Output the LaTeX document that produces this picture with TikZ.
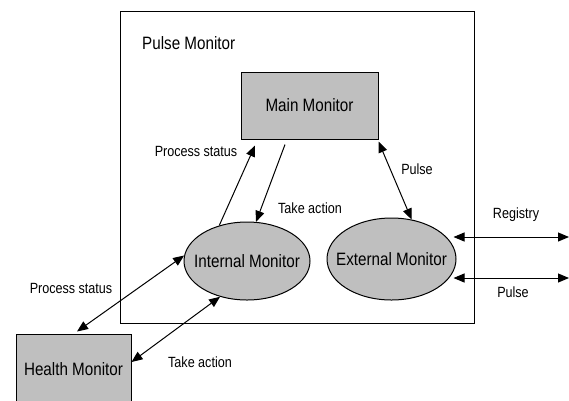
\documentclass[tikz,border=0pt]{standalone}
\usepackage{fontspec}
\setmainfont{Liberation Sans}[FakeStretch=0.85]
\usepackage{tikz}
\usetikzlibrary{arrows.meta,shapes}
\newcommand{\tiplen}{11pt}
\newcommand{\tipwid}{9pt}
\newcommand{\lw}{1pt}

\begin{document}
\begin{tikzpicture}[x=1pt,y=-1pt]
    %\draw[help lines] (0,0) grid (569,400);
    \tikzset{
        box/.style = {draw, line width=\lw, fill=gray!50, inner sep=0pt},
        oval/.style = {ellipse, draw, line width=\lw, fill=gray!50, inner sep=0pt},
        big/.style = {font=\fontsize{17.9}{20}\selectfont, inner sep=0pt},
        lbl/.style = {font=\fontsize{14.8}{16}\selectfont, inner sep=0pt},
        arr/.style = {line width=\lw, -{Triangle[length=\tiplen,width=\tipwid]}},
        darr/.style = {line width=\lw, {Triangle[length=\tiplen,width=\tipwid]}-{Triangle[length=\tiplen,width=\tipwid]}}
    }
    \useasboundingbox (0,0) rectangle (569,400);
    % outer box
    \node[draw, line width=\lw, minimum width=354pt, minimum height=312pt, inner sep=0pt] (pm) at (297,167) {};
    \node[big, anchor=west] (pmtxt) at (142,43) {Pulse Monitor};
    % monitors
    \node[box, minimum width=137pt, minimum height=67pt] (mm) at (309.5,105.5) {};
    \node[big] (mmtxt) at (mm) {Main Monitor};
    \node[oval, minimum width=126pt, minimum height=78pt] (im) at (247,261) {};
    \node[big] (imtxt) at (im) {Internal Monitor};
    \node[oval, minimum width=129pt, minimum height=82pt] (em) at (391.5,259) {};
    \node[big] (emtxt) at (em) {External Monitor};
    \node[box, minimum width=115pt, minimum height=70pt] (hm) at (73.5,369) {};
    \node[big] (hmtxt) at (hm) {Health Monitor};
    \coordinate (regend) at (569,237);
    \coordinate (pulend) at (569,278);
    % connectors
    \draw[arr] (im.128) -- ([xshift=-54.5pt,yshift=-6pt]mm.south);
    \draw[arr] ([xshift=-24.5pt,yshift=-5pt]mm.south) -- (im.77);
    \draw[darr] ([yshift=-2pt]mm.south east) -- (em.63);
    \draw[darr] ([xshift=3.5pt,yshift=2pt]hm.north) -- (im.175);
    \draw[darr] ([yshift=7pt]hm.east) -- (im.233);
    \draw[darr] ([xshift=-3pt,yshift=22pt]em.east) -- (regend);
    \draw[darr] ([xshift=-3pt,yshift=-19pt]em.east) -- (pulend);
    % labels
    \node[lbl] (lps1) at (196,151) {Process status};
    \node[lbl] (lta1) at (310,208) {Take action};
    \node[lbl] (lp1) at (417,169) {Pulse};
    \node[lbl] (lreg) at (516,215) {Registry};
    \node[lbl] (lp2) at (513,292) {Pulse};
    \node[lbl] (lps2) at (71,288) {Process status};
    \node[lbl] (lta2) at (200,362) {Take action};
\end{tikzpicture}
\end{document}
